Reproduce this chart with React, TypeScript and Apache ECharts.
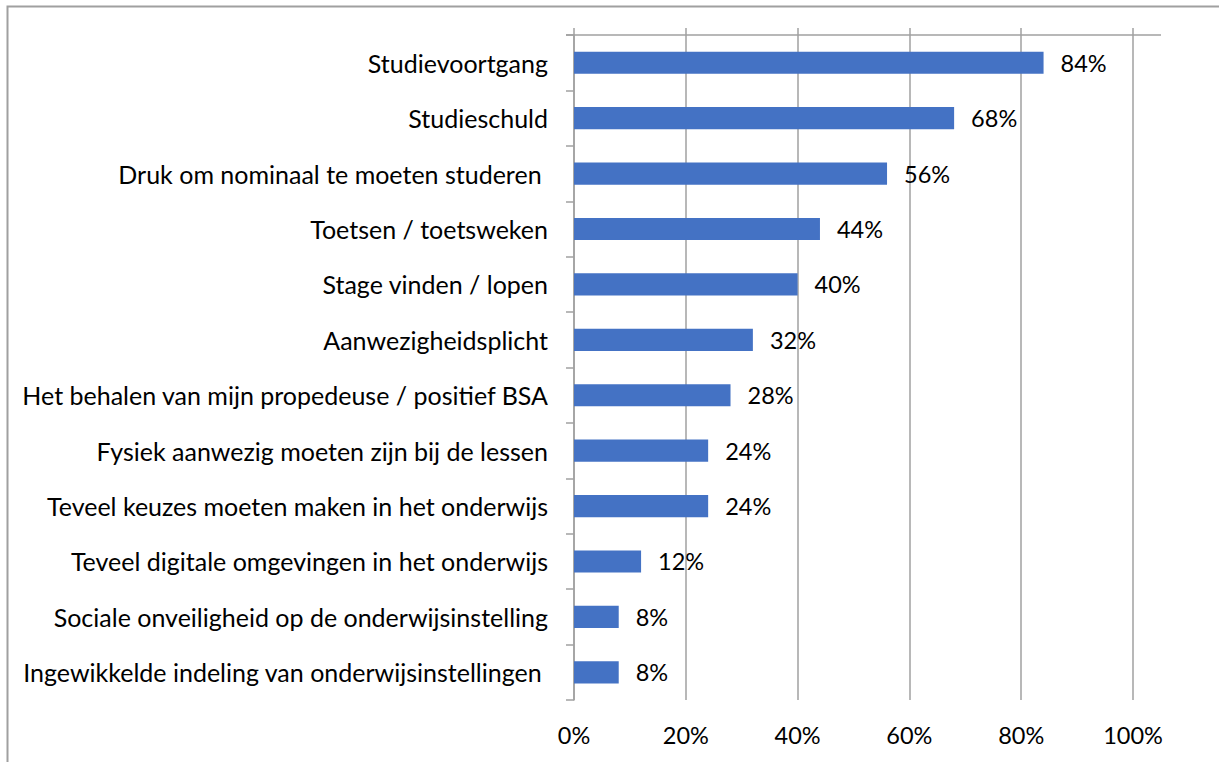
import React, { useEffect, useRef } from "react";
import * as echarts from "echarts";

const categories = [
  "Studievoortgang",
  "Studieschuld",
  "Druk om nominaal te moeten studeren ",
  "Toetsen / toetsweken",
  "Stage vinden / lopen",
  "Aanwezigheidsplicht",
  "Het behalen van mijn propedeuse / positief BSA",
  "Fysiek aanwezig moeten zijn bij de lessen",
  "Teveel keuzes moeten maken in het onderwijs",
  "Teveel digitale omgevingen in het onderwijs",
  "Sociale onveiligheid op de onderwijsinstelling",
  "Ingewikkelde indeling van onderwijsinstellingen ",
];
const values = [84, 68, 56, 44, 40, 32, 28, 24, 24, 12, 8, 8];
const xTicks = [0, 20, 40, 60, 80, 100];

const FONT = "Lato";
const GRAY = "#a0a0a0";

export default function App() {
  const ref = useRef<HTMLDivElement>(null);
  useEffect(() => {
    if (!ref.current) return;
    const chart = echarts.init(ref.current, undefined, { renderer: "svg" });
    chart.setOption({
      animation: false,
      backgroundColor: "#ffffff",
      textStyle: { fontFamily: FONT },
      grid: { left: 574, right: 86, top: 35, bottom: 62, containLabel: false },
      xAxis: [
        {
          type: "value",
          min: xTicks[0],
          max: xTicks[xTicks.length - 1],
          interval: 20,
          position: "bottom",
          axisLine: { show: false },
          axisTick: { show: false },
          splitLine: { show: true, lineStyle: { color: GRAY, width: 1.5 } },
          axisLabel: {
            formatter: "{value}%",
            color: "#000",
            fontSize: 23.5,
            fontFamily: FONT,
            margin: 23,
          },
        },
        {
          type: "value",
          min: xTicks[0],
          max: xTicks[xTicks.length - 1],
          interval: 20,
          position: "top",
          axisLine: { show: false },
          axisTick: { show: true, length: 7, lineStyle: { color: GRAY, width: 1.5 } },
          splitLine: { show: false },
          axisLabel: { show: false },
        },
      ],
      yAxis: {
        type: "category",
        data: categories,
        inverse: true,
        axisLine: { show: true, lineStyle: { color: GRAY, width: 1.5 } },
        axisTick: { show: true, length: 8, lineStyle: { color: GRAY, width: 1.5 } },
        axisLabel: { color: "#000", fontSize: 25, fontFamily: FONT, margin: 26 },
      },
      series: [
        {
          type: "bar",
          data: values,
          xAxisIndex: 0,
          barCategoryGap: "60%",
          itemStyle: { color: "#4472C4" },
          label: {
            show: true,
            position: "right",
            distance: 17,
            formatter: "{c}%",
            color: "#000",
            fontSize: 23.5,
            fontFamily: FONT,
          },
        },
      ],
      graphic: [
        {
          type: "line",
          shape: { x1: 566, y1: 35, x2: 1161, y2: 35 },
          style: { stroke: GRAY, lineWidth: 1.5 },
        },
        {
          type: "polyline",
          shape: { points: [[7.5, 762], [7.5, 6.5], [1219, 6.5]] },
          style: { stroke: GRAY, lineWidth: 2, fill: null },
        },
      ],
    });
    return () => chart.dispose();
  }, []);
  return (
    <div
      ref={ref}
      style={{ position: "absolute", left: 0, top: 0, width: 1219, height: 762 }}
    />
  );
}
